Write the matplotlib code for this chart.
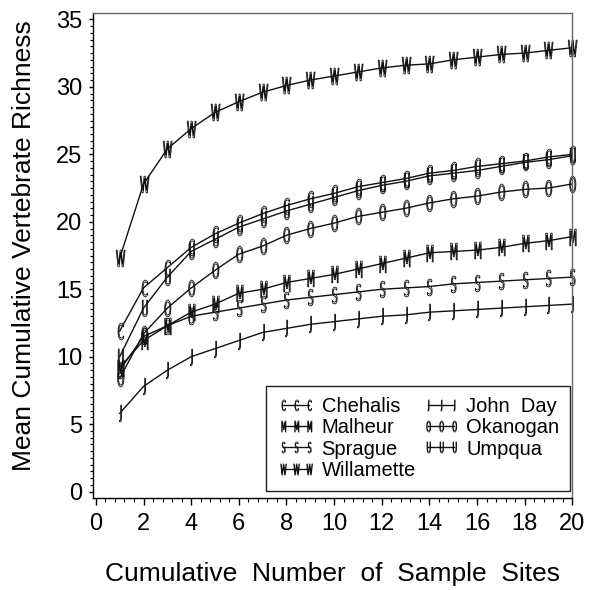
import numpy as np
import matplotlib
matplotlib.use("Agg")
import matplotlib.pyplot as plt
from matplotlib.lines import Line2D
from matplotlib.path import Path
from matplotlib.textpath import TextPath
from matplotlib.font_manager import FontProperties
from matplotlib.ticker import MultipleLocator

plt.rcParams['font.family'] = ['Liberation Sans', 'DejaVu Sans']

# =========================
# Data
# =========================
sites = np.arange(1, 21)

chehalis = [11.9, 15.1, 16.6, 18.1, 19.1, 19.9, 20.6, 21.2, 21.7, 22.1,
            22.6, 22.9, 23.2, 23.6, 23.8, 24.1, 24.3, 24.5, 24.8, 25.0]
malheur = [9.2, 11.2, 12.3, 13.3, 13.9, 14.7, 15.0, 15.5, 15.8, 16.1,
           16.5, 16.9, 17.3, 17.7, 17.8, 17.9, 18.1, 18.4, 18.6, 18.9]
sprague = [9.0, 11.5, 12.3, 13.0, 13.3, 13.6, 13.9, 14.2, 14.4, 14.6,
           14.8, 15.0, 15.1, 15.2, 15.4, 15.5, 15.6, 15.7, 15.8, 15.9]
willamette = [17.3, 22.8, 25.4, 26.9, 28.1, 28.9, 29.6, 30.1, 30.5, 30.8,
              31.1, 31.4, 31.6, 31.7, 32.0, 32.2, 32.4, 32.5, 32.7, 32.9]
john_day = [5.8, 7.8, 9.0, 10.0, 10.6, 11.2, 11.8, 12.1, 12.4, 12.6,
            12.8, 13.0, 13.1, 13.3, 13.4, 13.5, 13.6, 13.7, 13.8, 13.9]
okanogan = [8.4, 11.7, 13.6, 15.1, 16.4, 17.6, 18.2, 19.0, 19.5, 19.9,
            20.4, 20.7, 21.0, 21.4, 21.7, 21.9, 22.2, 22.4, 22.5, 22.8]
umpqua = [10.0, 13.6, 15.9, 17.8, 18.7, 19.6, 20.2, 20.8, 21.3, 21.8,
          22.3, 22.7, 23.0, 23.4, 23.6, 23.8, 24.1, 24.4, 24.6, 24.9]

names = ['Chehalis', 'Malheur', 'Sprague', 'Willamette',
         'John  Day', 'Okanogan', 'Umpqua']
letters = ['C', 'M', 'S', 'W', 'J', 'O', 'U']
series = [chehalis, malheur, sprague, willamette, john_day, okanogan, umpqua]


# tall, narrow hollow letters used as plot symbols
def letter_marker(ch, squeeze=0.42):
    tp = TextPath((0, 0), ch, size=1, prop=FontProperties(family='DejaVu Sans'))
    v = tp.vertices.copy()
    cx = (v[:, 0].min() + v[:, 0].max()) / 2
    cy = (v[:, 1].min() + v[:, 1].max()) / 2
    v[:, 0] = (v[:, 0] - cx) * squeeze
    v[:, 1] = v[:, 1] - cy
    return Path(v, tp.codes)


# =========================
# Plot
# =========================
fig = plt.figure(figsize=(6.0, 5.9), dpi=100)
ax = fig.add_axes([0.1558, 0.1559, 0.798, 0.8216])

handles = []
for name, ch, vals in zip(names, letters, series):
    mk = letter_marker(ch)
    ax.plot(sites, vals, color='#111111', lw=1.0, marker=mk, ms=12,
            mfc='none', mec='#111111', mew=0.6, clip_on=False)
    handles.append(Line2D([], [], color='#111111', lw=1.0, marker=mk, ms=8,
                          mfc='none', mec='#111111', mew=0.5, label=name))

ax.set_xlim(-0.1, 20)
ax.set_ylim(-0.47, 35.45)
ax.xaxis.set_major_locator(MultipleLocator(2))
ax.xaxis.set_minor_locator(MultipleLocator(0.4))
ax.yaxis.set_major_locator(MultipleLocator(5))
ax.yaxis.set_minor_locator(MultipleLocator(0.5))

ax.tick_params(axis='x', which='major', length=5, width=1, pad=6, labelsize=17)
ax.tick_params(axis='x', which='minor', length=3, width=0.8)
ax.tick_params(axis='y', which='major', length=3, width=1, pad=5, labelsize=17)
ax.tick_params(axis='y', which='minor', length=2, width=0.8)

for side in ['top', 'right']:
    ax.spines[side].set_color('#666666')
for sp in ax.spines.values():
    sp.set_linewidth(1.0)

ax.set_xlabel('Cumulative  Number  of  Sample  Sites', fontsize=19)
ax.xaxis.set_label_coords(0.5, -0.132)
ax.set_ylabel('Mean Cumulative Vertebrate Richness', fontsize=19)
ax.yaxis.set_label_coords(-0.12, 0.52)

leg = ax.legend(handles=handles, ncol=2, loc='lower right',
                bbox_to_anchor=(0.996, 0.0144), borderaxespad=0,
                fontsize=14.5, numpoints=3, handlelength=1.9, handletextpad=0.3,
                labelspacing=0.12, columnspacing=0.3, borderpad=0.55,
                fancybox=False, edgecolor='#222222', framealpha=1)
leg.get_frame().set_linewidth(1.0)

plt.savefig('out.png', dpi=100)
